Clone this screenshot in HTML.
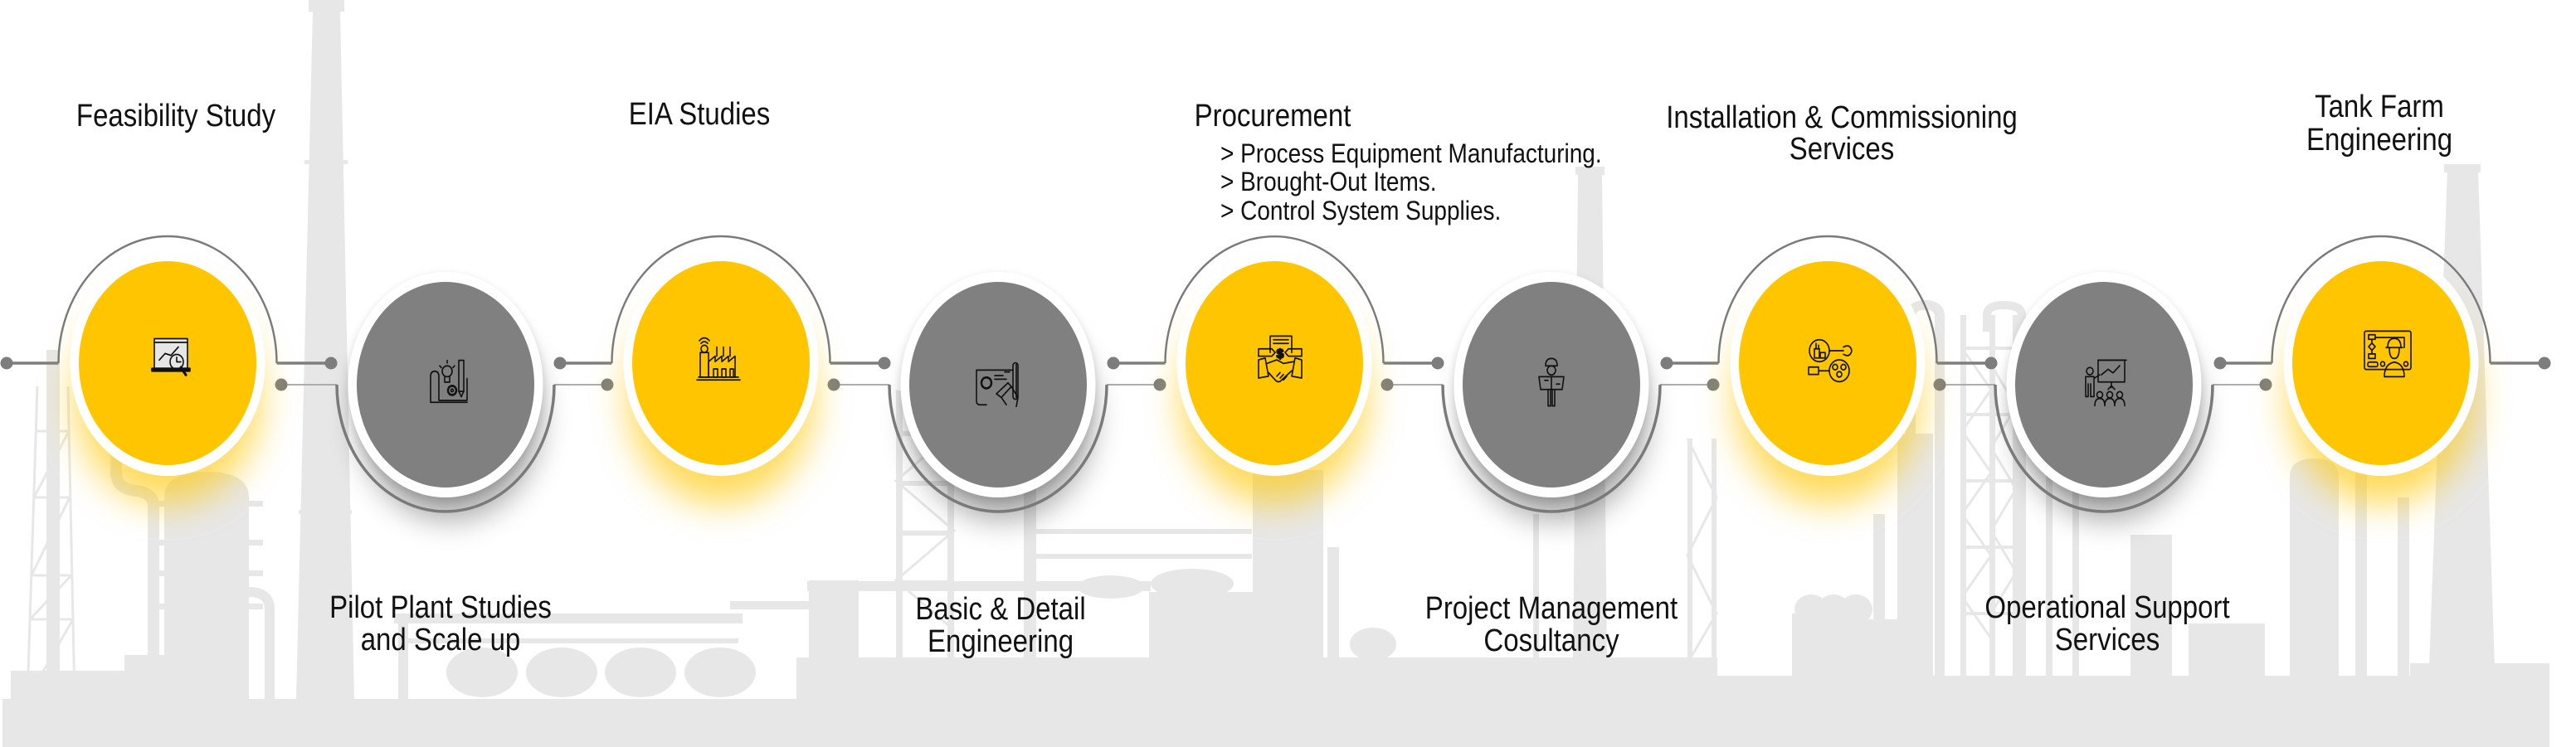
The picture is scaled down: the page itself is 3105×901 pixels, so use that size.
<!DOCTYPE html>
<html><head><meta charset="utf-8"><style>
html,body{margin:0;padding:0;background:#fff;}
svg{display:block;}
text{font-family:"Liberation Sans",Arial,sans-serif;fill:#111;}
</style></head><body>
<svg width="3105" height="901" viewBox="0 0 3105 901" xmlns="http://www.w3.org/2000/svg">
<defs>
<filter id="fy" x="-60%" y="-60%" width="220%" height="220%"><feGaussianBlur stdDeviation="22"/></filter>
<filter id="fg" x="-60%" y="-60%" width="220%" height="220%"><feGaussianBlur stdDeviation="18"/></filter>
<filter id="fs" x="-30%" y="-30%" width="160%" height="160%"><feGaussianBlur stdDeviation="5"/></filter>
</defs>
<rect width="3105" height="901" fill="#fff"/>

<!-- background silhouette -->
<g fill="#e7e7e7">
 <rect x="3" y="843" width="3070" height="58"/>
 <rect x="960" y="793" width="1110" height="60"/>
 <rect x="2070" y="815" width="835" height="40"/>
 <rect x="2905" y="800" width="168" height="50"/>
 <rect x="13" y="809" width="190" height="40"/>
 <rect x="150" y="790" width="60" height="25"/>
 <rect x="56" y="422" width="16" height="421"/>
 <path d="M198,843 V600 Q198,569 249,569 Q300,569 300,600 V843 Z"/>
 <rect x="181" y="604" width="136" height="7"/>
 <rect x="181" y="651" width="136" height="7"/>
 <rect x="181" y="688" width="136" height="7"/>
 <rect x="181" y="728" width="136" height="7"/>
 <polygon points="377,12 410,12 427,843 357,843"/>
 <rect x="372" y="0" width="43" height="14"/>
 <rect x="367" y="193" width="52" height="5"/>
 <rect x="360" y="615" width="64" height="5"/>
 <rect x="475" y="740" width="420" height="12"/>
 <rect x="480" y="770" width="410" height="6"/>
 <rect x="480" y="740" width="12" height="103"/>
 <ellipse cx="581" cy="811" rx="43" ry="30"/>
 <ellipse cx="677" cy="811" rx="43" ry="30"/>
 <ellipse cx="772" cy="811" rx="43" ry="30"/>
 <ellipse cx="868" cy="811" rx="43" ry="30"/>
 <rect x="975" y="700" width="60" height="143"/>
 <rect x="880" y="725" width="95" height="10"/>
 <rect x="1080" y="471" width="8" height="322"/>
 <rect x="1142" y="471" width="8" height="322"/>
 <rect x="1080" y="520" width="70" height="6"/>
 <rect x="1080" y="580" width="70" height="6"/>
 <rect x="1080" y="640" width="70" height="6"/>
 <rect x="1080" y="700" width="70" height="6"/>
 <rect x="1234" y="575" width="15" height="218"/>
 <rect x="1249" y="638" width="260" height="6"/>
 <rect x="1249" y="668" width="260" height="6"/>
 <rect x="973" y="701" width="414" height="12"/>
 <ellipse cx="1339" cy="708" rx="40" ry="14"/>
 <ellipse cx="1437" cy="704" rx="50" ry="18"/>
 <rect x="1385" y="714" width="138" height="79"/>
 <rect x="1510" y="567" width="85" height="226"/>
 <rect x="1600" y="660" width="14" height="133"/>
 <ellipse cx="1655" cy="777" rx="28" ry="20"/>
 <polygon points="1902,210 1931,210 1937,793 1896,793"/>
 <rect x="1899" y="201" width="35" height="10"/>
 <rect x="1848" y="620" width="7" height="173"/>
 <rect x="2034" y="529" width="6" height="270"/>
 <rect x="2063" y="529" width="6" height="270"/>
 <ellipse cx="2183" cy="735" rx="20" ry="18"/>
 <ellipse cx="2210" cy="735" rx="20" ry="18"/>
 <ellipse cx="2237" cy="735" rx="20" ry="18"/>
 <rect x="2160" y="740" width="90" height="75"/>
 <rect x="2238" y="747" width="56" height="68"/>
 <rect x="2258" y="620" width="14" height="195"/>
 <rect x="2287" y="523" width="43" height="292"/>
 <rect x="2363" y="380" width="7" height="435"/>
 <rect x="2398" y="380" width="7" height="435"/>
 <rect x="2426" y="380" width="7" height="435"/>
 <rect x="2466" y="568" width="8" height="247"/>
 <rect x="2498" y="568" width="8" height="247"/>
 <rect x="2568" y="645" width="50" height="170"/>
 <rect x="2638" y="752" width="92" height="63"/>
 <path d="M2760,815 V575 Q2760,553 2790,553 Q2819,553 2819,575 V815 Z"/>
 <rect x="2839" y="568" width="14" height="247"/>
 <rect x="2890" y="600" width="14" height="215"/>
 <polygon points="2950,205 2987,205 3007,805 2928,805"/>
 <rect x="2946" y="198" width="44" height="10"/>
</g>
<g stroke="#e7e7e7" stroke-width="3" fill="none">
 <path d="M33,843 L45,466 M90,843 L82,466 M36,747 L88,747 M38,694 L86,694 M41,600 L84,600 M43,520 L83,520 M36,747 L86,694 M38,694 L84,600 M41,600 L83,520 M33,843 L88,747"/>
 <path d="M1080,471 L1150,520 L1080,580 L1150,640 L1080,700 L1150,760"/>
 <path d="M2034,529 L2069,600 L2034,670 L2069,740 L2034,800"/>
 <path d="M2365,420 L2400,470 L2365,520 L2400,570 L2365,620 L2400,670 L2365,720 L2400,770 M2400,440 L2430,490 L2400,540 L2430,590 L2400,640 L2430,690 L2400,740"/>
 <path d="M2363,420 H2433 M2363,500 H2433 M2363,580 H2433 M2363,660 H2433 M2363,740 H2433" stroke-width="4"/>
 <path d="M2303,530 V382 Q2303,368 2320,368 Q2338,368 2338,382 V815" stroke-width="12"/>
 <path d="M2395,400 V380 Q2395,368 2415,368 Q2437,368 2437,380 V815" stroke-width="10"/>
 <path d="M140,540 V570 Q140,590 165,592 Q185,595 185,610 V843" stroke-width="14"/>
 <path d="M300,714 Q325,714 325,735 V843" stroke-width="12"/>
</g>

<!-- connectors -->
<g stroke="#7d7d7d" fill="none">
 <line x1="8" y1="438" x2="70.5" y2="438" stroke-width="3.5"/>
 <line x1="333.5" y1="438" x2="399" y2="438" stroke-width="3.5"/>
 <line x1="675" y1="438" x2="737.5" y2="438" stroke-width="3.5"/>
 <line x1="1000.5" y1="438" x2="1066" y2="438" stroke-width="3.5"/>
 <line x1="1342" y1="438" x2="1404.5" y2="438" stroke-width="3.5"/>
 <line x1="1667.5" y1="438" x2="1733" y2="438" stroke-width="3.5"/>
 <line x1="2009" y1="438" x2="2071.5" y2="438" stroke-width="3.5"/>
 <line x1="2334.5" y1="438" x2="2400" y2="438" stroke-width="3.5"/>
 <line x1="2676" y1="438" x2="2738.5" y2="438" stroke-width="3.5"/>
 <line x1="3001.5" y1="438" x2="3067" y2="438" stroke-width="3.5"/>
</g>
<g stroke="#a3a3a3" stroke-width="1.8" fill="none">
 <line x1="339" y1="464" x2="406" y2="464"/>
 <line x1="668" y1="464" x2="732" y2="464"/>
 <line x1="1005" y1="464" x2="1072" y2="464"/>
 <line x1="1334" y1="464" x2="1398" y2="464"/>
 <line x1="1672" y1="464" x2="1739" y2="464"/>
 <line x1="2001" y1="464" x2="2065" y2="464"/>
 <line x1="2338" y1="464" x2="2405" y2="464"/>
 <line x1="2667" y1="464" x2="2731" y2="464"/>
</g>
<g fill="#7d7d7d">
 <circle cx="8" cy="438" r="7.5"/><circle cx="399" cy="438" r="7.5"/>
 <circle cx="675" cy="438" r="7.5"/><circle cx="1066" cy="438" r="7.5"/>
 <circle cx="1342" cy="438" r="7.5"/><circle cx="1733" cy="438" r="7.5"/>
 <circle cx="2009" cy="438" r="7.5"/><circle cx="2400" cy="438" r="7.5"/>
 <circle cx="2676" cy="438" r="7.5"/><circle cx="3067" cy="438" r="7.5"/>
 <circle cx="339" cy="464" r="7.5"/><circle cx="732" cy="464" r="7.5"/>
 <circle cx="1005" cy="464" r="7.5"/><circle cx="1398" cy="464" r="7.5"/>
 <circle cx="1672" cy="464" r="7.5"/><circle cx="2065" cy="464" r="7.5"/>
 <circle cx="2338" cy="464" r="7.5"/><circle cx="2731" cy="464" r="7.5"/>
</g>

<!-- glows / shadows -->
<g fill="#ffc600" opacity="0.65" filter="url(#fy)">
 <ellipse cx="202" cy="480" rx="112" ry="128"/>
 <ellipse cx="869" cy="480" rx="112" ry="128"/>
 <ellipse cx="1536" cy="480" rx="112" ry="128"/>
 <ellipse cx="2203" cy="480" rx="112" ry="128"/>
 <ellipse cx="2870" cy="480" rx="112" ry="128"/>
</g>
<g fill="#000" opacity="0.34" filter="url(#fg)">
 <ellipse cx="542" cy="502" rx="110" ry="125"/>
 <ellipse cx="1208" cy="502" rx="110" ry="125"/>
 <ellipse cx="1875" cy="502" rx="110" ry="125"/>
 <ellipse cx="2541" cy="502" rx="110" ry="125"/>
</g>

<!-- arcs -->
<g stroke="#7a7a7a" fill="none" stroke-width="2.4">
 <path d="M70.5,438 A131.5,153 0 0 1 333.5,438"/>
 <path d="M737.5,438 A131.5,153 0 0 1 1000.5,438"/>
 <path d="M1404.5,438 A131.5,153 0 0 1 1667.5,438"/>
 <path d="M2071.5,438 A131.5,153 0 0 1 2334.5,438"/>
 <path d="M2738.5,438 A131.5,153 0 0 1 3001.5,438"/>
</g>
<g stroke="#7a7a7a" fill="none" stroke-width="3.5">
 <path d="M406,464 A131,153 0 0 0 668,464"/>
 <path d="M1072,464 A131,153 0 0 0 1334,464"/>
 <path d="M1739,464 A131,153 0 0 0 2001,464"/>
 <path d="M2405,464 A131,153 0 0 0 2667,464"/>
</g>

<!-- rings -->
<g fill="#000" opacity="0.12" filter="url(#fs)">
 <ellipse cx="537" cy="468" rx="118" ry="137"/>
 <ellipse cx="1203" cy="468" rx="118" ry="137"/>
 <ellipse cx="1870" cy="468" rx="118" ry="137"/>
 <ellipse cx="2536" cy="468" rx="118" ry="137"/>
</g>
<g fill="#fff">
 <ellipse cx="202" cy="438" rx="117.5" ry="136"/>
 <ellipse cx="869" cy="438" rx="117.5" ry="136"/>
 <ellipse cx="1536" cy="438" rx="117.5" ry="136"/>
 <ellipse cx="2203" cy="438" rx="117.5" ry="136"/>
 <ellipse cx="2870" cy="438" rx="117.5" ry="136"/>
 <ellipse cx="537" cy="464" rx="117.5" ry="136"/>
 <ellipse cx="1203" cy="464" rx="117.5" ry="136"/>
 <ellipse cx="1870" cy="464" rx="117.5" ry="136"/>
 <ellipse cx="2536" cy="464" rx="117.5" ry="136"/>
</g>
<g fill="#ffc600">
 <ellipse cx="202" cy="438" rx="107" ry="123"/>
 <ellipse cx="869" cy="438" rx="107" ry="123"/>
 <ellipse cx="1536" cy="438" rx="107" ry="123"/>
 <ellipse cx="2203" cy="438" rx="107" ry="123"/>
 <ellipse cx="2870" cy="438" rx="107" ry="123"/>
</g>
<g fill="#808080">
 <ellipse cx="537" cy="464" rx="107" ry="124"/>
 <ellipse cx="1203" cy="464" rx="107" ry="124"/>
 <ellipse cx="1870" cy="464" rx="107" ry="124"/>
 <ellipse cx="2536" cy="464" rx="107" ry="124"/>
</g>

<!-- icons -->
<g stroke="#111" stroke-width="1.6" fill="none" stroke-linejoin="round" stroke-linecap="round">
 <g transform="translate(207,432) scale(1,1.12)">
  <rect x="-21" y="-21" width="40" height="32" fill="#e6e6e6"/>
  <line x1="-21" y1="-17" x2="19" y2="-17"/>
  <polyline points="-15,2 -8,-5 -1,-3 8,-12"/>
  <circle cx="6" cy="4" r="8" fill="#e6e6e6"/>
  <path d="M6,-1 V4 H11"/>
  <line x1="11" y1="10" x2="17" y2="18" stroke-width="3"/>
  <rect x="-24" y="11" width="46" height="3" fill="#111"/>
 </g>
 <g transform="translate(541,461) scale(1,1.1)">
  <path d="M-22,22 V-6 Q-22,-12 -17,-12 Q-12,-12 -12,-6 V20 H22 V-4"/>
  <path d="M-22,22 H22"/>
  <circle cx="-2" cy="-12" r="6"/>
  <path d="M-5,-6 V0 H1 V-6"/>
  <path d="M-2,-24 V-21 M-11,-18 L-9,-16 M7,-18 L5,-16"/>
  <circle cx="4" cy="9" r="5" stroke-dasharray="3 1.5" stroke-width="2.5"/>
  <circle cx="4" cy="9" r="1.5"/>
  <rect x="12" y="-24" width="6" height="34"/>
  <path d="M12,10 L15,16 L18,10"/>
 </g>
 <g transform="translate(866,434) scale(1,1.1)">
  <path d="M-26,22 H26 M-24,19 H24"/>
  <rect x="-22" y="-8" width="10" height="27"/>
  <circle cx="-17" cy="-12" r="4"/>
  <path d="M-12,19 V2 L-4,-4 V2 L4,-4 V2 L12,-4 V2 L20,-4 V19"/>
  <path d="M-2,-4 V-14 M6,-4 V-14 M14,-4 V-14"/>
  <rect x="-6" y="10" width="5" height="9"/><rect x="4" y="10" width="5" height="9"/><rect x="14" y="10" width="4" height="9"/>
  <path d="M-23,-21 Q-17,-27 -11,-21 M-21,-18 Q-17,-22 -13,-18"/>
 </g>
 <g transform="translate(1203,464) scale(1,1.1)">
  <path d="M-26,18 V-16 H18 M22,-22 V14 M-26,18 Q-26,22 -22,22 H-14"/>
  <rect x="18" y="-24" width="6" height="40" rx="3"/>
  <circle cx="-14" cy="-2" r="6" stroke-dasharray="3 1.5" stroke-width="2.5"/>
  <path d="M-4,-10 H6 M-4,-6 H10 M8,-14 H14"/>
  <path d="M-2,10 L12,-2 L16,2 L4,14 Z"/>
  <path d="M4,14 L10,22 M16,2 L24,14 L22,24"/>
 </g>
 <g transform="translate(1543,434) scale(1,1.1)">
  <path d="M-12,-8 V-26 H14 V-8"/>
  <path d="M-8,-22 H10 M-8,-18 H10"/>
  <path d="M-26,-12 H-10 L-6,-8 L-10,-4 H-26 Z"/>
  <path d="M26,-12 H10 L6,-8 L10,-4 H26 Z"/>
  <path d="M-26,0 L-18,-2 L-14,18 L-26,20 Z M26,0 L18,-2 L14,18 L26,20 Z"/>
  <path d="M-16,4 L-4,0 L4,4 L16,2 M-14,14 L-6,22 Q-2,26 2,22 L14,12"/>
  <path d="M-4,18 L0,14 M0,20 L4,16 M4,22 L8,18"/>
 </g>
 <text x="1543" y="432" font-size="16" text-anchor="middle" style="font-weight:bold">$</text>
 <g transform="translate(1870,461) scale(1,1.1)">
  <path d="M-7,-18 Q-7,-26 0,-26 Q7,-26 7,-18 Z"/>
  <circle cx="0" cy="-13" r="5"/>
  <path d="M-15,-6 H15 L13,8 H-13 Z"/>
  <path d="M-4,8 V26 H-1 V8 M4,8 V26 H1 V8"/>
  <path d="M0,-6 V8 M-8,-2 H-4 M6,2 H10"/>
 </g>
 <g transform="translate(2206,434) scale(1,1.1)">
  <circle cx="-13" cy="-10" r="12"/>
  <rect x="-19" y="-12" width="6" height="10"/><rect x="-12" y="-8" width="6" height="6"/>
  <path d="M-17,-12 V-18 M-14,-12 V-16"/>
  <path d="M-1,-10 H16 M16,-14 Q24,-18 26,-10 Q24,-2 16,-6"/>
  <circle cx="11" cy="12" r="12"/>
  <circle cx="6" cy="8" r="3"/><circle cx="16" cy="8" r="3"/><circle cx="11" cy="16" r="3"/>
  <path d="M-1,12 H-14 M-14,8 V16 H-26 V8 Z"/>
 </g>
 <g transform="translate(2537,463) scale(1,1.1)">
  <rect x="-8" y="-26" width="32" height="24"/>
  <path d="M-8,-26 H26"/>
  <polyline points="-4,-10 4,-16 10,-12 18,-20"/>
  <path d="M8,-2 V4 M4,6 L8,2 L12,6"/>
  <circle cx="-18" cy="-14" r="4"/>
  <path d="M-23,6 V-8 H-13 V14 H-17 V0 M-20,0 V14 H-23 V6 M-13,-6 L-6,-10"/>
  <circle cx="-6" cy="12" r="3.5"/><circle cx="6" cy="12" r="3.5"/><circle cx="18" cy="12" r="3.5"/>
  <path d="M-12,24 Q-12,16 -6,16 Q0,16 0,24 M0,24 Q0,16 6,16 Q12,16 12,24 M12,24 Q12,16 18,16 Q24,16 24,24"/>
 </g>
 <g transform="translate(2878,428) scale(1,1.1)">
  <rect x="-28" y="-26" width="56" height="42" rx="2"/>
  <rect x="-23" y="-22" width="8" height="5"/>
  <path d="M-19,-17 V-13 M-23,-9 L-19,-13 L-15,-9 L-19,-5 Z M-19,-5 V-1"/>
  <rect x="-23" y="-1" width="8" height="5"/>
  <path d="M-15,-19 H20 V-8"/>
  <rect x="-24" y="8" width="12" height="5" rx="2"/>
  <circle cx="-6" cy="10" r="2.5"/><circle cx="22" cy="10" r="2.5"/>
  <path d="M0,-8 Q0,-18 8,-18 Q16,-18 16,-8 Z M-2,-8 H18"/>
  <path d="M2,-8 Q2,4 8,4 Q14,4 14,-8"/>
  <path d="M-4,24 Q-4,10 8,8 Q20,10 20,24 Z"/>
 </g>
</g>

<!-- labels top -->
<g font-size="33">
 <text transform="translate(212,152) scale(1,1.15)" text-anchor="middle">Feasibility Study</text>
 <text transform="translate(843,150) scale(1,1.15)" text-anchor="middle">EIA Studies</text>
 <text transform="translate(1534,152) scale(1,1.15)" text-anchor="middle">Procurement</text>
 <text transform="translate(2220,154) scale(1,1.15)" text-anchor="middle">Installation &amp; Commissioning</text>
 <text transform="translate(2220,192) scale(1,1.15)" text-anchor="middle">Services</text>
 <text transform="translate(2868,141) scale(1,1.15)" text-anchor="middle">Tank Farm</text>
 <text transform="translate(2868,181) scale(1,1.15)" text-anchor="middle">Engineering</text>
</g>
<g font-size="28">
 <text transform="translate(1471,196) scale(1,1.15)">&gt; Process Equipment Manufacturing.</text>
 <text transform="translate(1471,230) scale(1,1.15)">&gt; Brought-Out Items.</text>
 <text transform="translate(1471,265) scale(1,1.15)">&gt; Control System Supplies.</text>
</g>
<!-- labels bottom -->
<g font-size="33">
 <text transform="translate(531,745) scale(1,1.15)" text-anchor="middle">Pilot Plant Studies</text>
 <text transform="translate(531,784) scale(1,1.15)" text-anchor="middle">and Scale up</text>
 <text transform="translate(1206,747) scale(1,1.15)" text-anchor="middle">Basic &amp; Detail</text>
 <text transform="translate(1206,786) scale(1,1.15)" text-anchor="middle">Engineering</text>
 <text transform="translate(1870,746) scale(1,1.15)" text-anchor="middle">Project Management</text>
 <text transform="translate(1870,785) scale(1,1.15)" text-anchor="middle">Cosultancy</text>
 <text transform="translate(2540,745) scale(1,1.15)" text-anchor="middle">Operational Support</text>
 <text transform="translate(2540,784) scale(1,1.15)" text-anchor="middle">Services</text>
</g>
</svg>
</body></html>
